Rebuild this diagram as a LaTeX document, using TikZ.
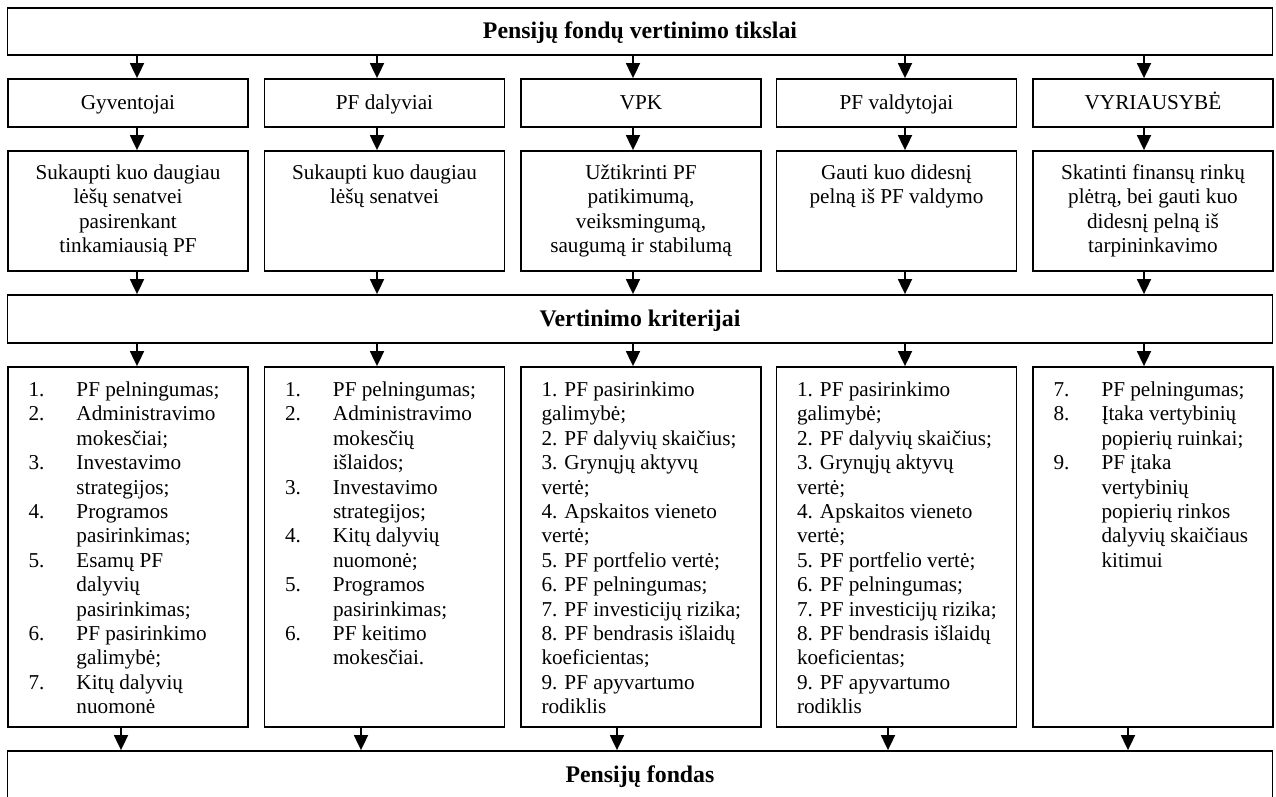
\documentclass[tikz,border=0pt]{standalone}
\usepackage{fontspec}
\setmainfont{Liberation Serif}
\usetikzlibrary{arrows.meta}
\tikzset{
  box/.style={draw, line width=0.9pt, minimum width=120pt, inner sep=0pt},
  whobox/.style={box, minimum height=24pt, text height=9pt, text depth=2pt},
  headbox/.style={draw, line width=0.9pt, minimum width=632.5pt, inner sep=0pt,
    text height=9.5pt, text depth=2.5pt, font=\fontsize{11.9}{13.7}\selectfont\bfseries},
  goaltext/.style={inner sep=0pt, align=center, anchor=north},
  listtext/.style={inner sep=0pt, align=left, anchor=north west},
  arr/.style={line width=0.9pt, -{Triangle[width=7pt,length=7.5pt]}}
}
\newcommand{\nrlist}[1]{\begin{tabular}{@{}p{24pt}@{}l@{}}#1\end{tabular}}

\begin{document}
\begin{tikzpicture}[x=0.5pt, y=-0.5pt, font=\fontsize{10.6}{12.2}\selectfont]
  \useasboundingbox (0,0) rectangle (1276,797);

  %%%%% headers %%%%%
  \node[headbox, minimum height=23.5pt] (tikslai) at (640,31.5) {Pensijų fondų vertinimo tikslai};
  \node[headbox, minimum height=24pt] (kriterijai) at (640,319) {Vertinimo kriterijai};
  \node[headbox, minimum height=24pt] (fondas) at (640,775) {Pensijų fondas};

  %%%%% who %%%%%
  \node[whobox] (gyv) at (128,103) {Gyventojai};
  \node[whobox] (dal) at (384.5,103) {PF dalyviai};
  \node[whobox] (vpk) at (641,103) {VPK};
  \node[whobox] (vald) at (896.5,103) {PF valdytojai};
  \node[whobox] (vyr) at (1153,103) {VYRIAUSYBĖ};

  %%%%% goals %%%%%
  \node[box, minimum height=60pt] (gyvT) at (128,211) {};
  \node[box, minimum height=60pt] (dalT) at (384.5,211) {};
  \node[box, minimum height=60pt] (vpkT) at (641,211) {};
  \node[box, minimum height=60pt] (valdT) at (896.5,211) {};
  \node[box, minimum height=60pt] (vyrT) at (1153,211) {};

  \node[goaltext] (gyvTx) at ([yshift=-6pt]gyvT.north) {\strut Sukaupti kuo daugiau\\ lėšų senatvei\\ pasirenkant\\ tinkamiausią PF};
  \node[goaltext] (dalTx) at ([yshift=-6pt]dalT.north) {\strut Sukaupti kuo daugiau\\ lėšų senatvei};
  \node[goaltext] (vpkTx) at ([yshift=-6pt]vpkT.north) {\strut Užtikrinti PF\\ patikimumą,\\ veiksmingumą,\\ saugumą ir stabilumą};
  \node[goaltext] (valdTx) at ([yshift=-6pt]valdT.north) {\strut Gauti kuo didesnį\\ pelną iš PF valdymo};
  \node[goaltext] (vyrTx) at ([yshift=-6pt]vyrT.north) {\strut Skatinti finansų rinkų\\ plėtrą, bei gauti kuo\\ didesnį pelną iš\\ tarpininkavimo};

  %%%%% criteria %%%%%
  \node[box, minimum height=180pt] (gyvK) at (128,547) {};
  \node[box, minimum height=180pt] (dalK) at (384.5,547) {};
  \node[box, minimum height=180pt] (vpkK) at (641,547) {};
  \node[box, minimum height=180pt] (valdK) at (896.5,547) {};
  \node[box, minimum height=180pt] (vyrK) at (1153,547) {};

  \node[listtext] (gyvKx) at ([xshift=10.5pt,yshift=-6.5pt]gyvK.north west) {\nrlist{
    1. & PF pelningumas;\\ 2. & Administravimo\\ & mokesčiai;\\ 3. & Investavimo\\ & strategijos;\\
    4. & Programos\\ & pasirinkimas;\\ 5. & Esamų PF\\ & dalyvių\\ & pasirinkimas;\\
    6. & PF pasirinkimo\\ & galimybė;\\ 7. & Kitų dalyvių\\ & nuomonė}};
  \node[listtext] (dalKx) at ([xshift=10.5pt,yshift=-6.5pt]dalK.north west) {\nrlist{
    1. & PF pelningumas;\\ 2. & Administravimo\\ & mokesčių\\ & išlaidos;\\ 3. & Investavimo\\ & strategijos;\\
    4. & Kitų dalyvių\\ & nuomonė;\\ 5. & Programos\\ & pasirinkimas;\\ 6. & PF keitimo\\ & mokesčiai.}};
  \node[listtext] (vpkKx) at ([xshift=10.5pt,yshift=-6.5pt]vpkK.north west) {\strut 1. PF pasirinkimo\\ galimybė;\\
    2. PF dalyvių skaičius;\\ 3. Grynųjų aktyvų\\ vertė;\\ 4. Apskaitos vieneto\\ vertė;\\
    5. PF portfelio vertė;\\ 6. PF pelningumas;\\ 7. PF investicijų rizika;\\
    8. PF bendrasis išlaidų\\ koeficientas;\\ 9. PF apyvartumo\\ rodiklis};
  \node[listtext] (valdKx) at ([xshift=10.5pt,yshift=-6.5pt]valdK.north west) {\strut 1. PF pasirinkimo\\ galimybė;\\
    2. PF dalyvių skaičius;\\ 3. Grynųjų aktyvų\\ vertė;\\ 4. Apskaitos vieneto\\ vertė;\\
    5. PF portfelio vertė;\\ 6. PF pelningumas;\\ 7. PF investicijų rizika;\\
    8. PF bendrasis išlaidų\\ koeficientas;\\ 9. PF apyvartumo\\ rodiklis};
  \node[listtext] (vyrKx) at ([xshift=10.5pt,yshift=-6.5pt]vyrK.north west) {\nrlist{
    7. & PF pelningumas;\\ 8. & Įtaka vertybinių\\ & popierių ruinkai;\\ 9. & PF įtaka\\ & vertybinių\\
    & popierių rinkos\\ & dalyvių skaičiaus\\ & kitimui}};

  %%%%% arrows %%%%%
  \coordinate (a1) at (137,0);
  \coordinate (a2) at (377,0);
  \coordinate (a3) at (633,0);
  \coordinate (a4) at (905,0);
  \coordinate (a5) at (1144,0);
  \coordinate (b1) at (121,0);
  \coordinate (b2) at (361,0);
  \coordinate (b3) at (617,0);
  \coordinate (b4) at (888,0);
  \coordinate (b5) at (1128,0);

  \draw[arr] (tikslai.south -| a1) -- (gyv.north -| a1);
  \draw[arr] (tikslai.south -| a2) -- (dal.north -| a2);
  \draw[arr] (tikslai.south -| a3) -- (vpk.north -| a3);
  \draw[arr] (tikslai.south -| a4) -- (vald.north -| a4);
  \draw[arr] (tikslai.south -| a5) -- (vyr.north -| a5);

  \draw[arr] (gyv.south -| a1) -- (gyvT.north -| a1);
  \draw[arr] (dal.south -| a2) -- (dalT.north -| a2);
  \draw[arr] (vpk.south -| a3) -- (vpkT.north -| a3);
  \draw[arr] (vald.south -| a4) -- (valdT.north -| a4);
  \draw[arr] (vyr.south -| a5) -- (vyrT.north -| a5);

  \draw[arr] (gyvT.south -| a1) -- (kriterijai.north -| a1);
  \draw[arr] (dalT.south -| a2) -- (kriterijai.north -| a2);
  \draw[arr] (vpkT.south -| a3) -- (kriterijai.north -| a3);
  \draw[arr] (valdT.south -| a4) -- (kriterijai.north -| a4);
  \draw[arr] (vyrT.south -| a5) -- (kriterijai.north -| a5);

  \draw[arr] (kriterijai.south -| a1) -- (gyvK.north -| a1);
  \draw[arr] (kriterijai.south -| a2) -- (dalK.north -| a2);
  \draw[arr] (kriterijai.south -| a3) -- (vpkK.north -| a3);
  \draw[arr] (kriterijai.south -| a4) -- (valdK.north -| a4);
  \draw[arr] (kriterijai.south -| a5) -- (vyrK.north -| a5);

  \draw[arr] (gyvK.south -| b1) -- (fondas.north -| b1);
  \draw[arr] (dalK.south -| b2) -- (fondas.north -| b2);
  \draw[arr] (vpkK.south -| b3) -- (fondas.north -| b3);
  \draw[arr] (valdK.south -| b4) -- (fondas.north -| b4);
  \draw[arr] (vyrK.south -| b5) -- (fondas.north -| b5);
\end{tikzpicture}
\end{document}
